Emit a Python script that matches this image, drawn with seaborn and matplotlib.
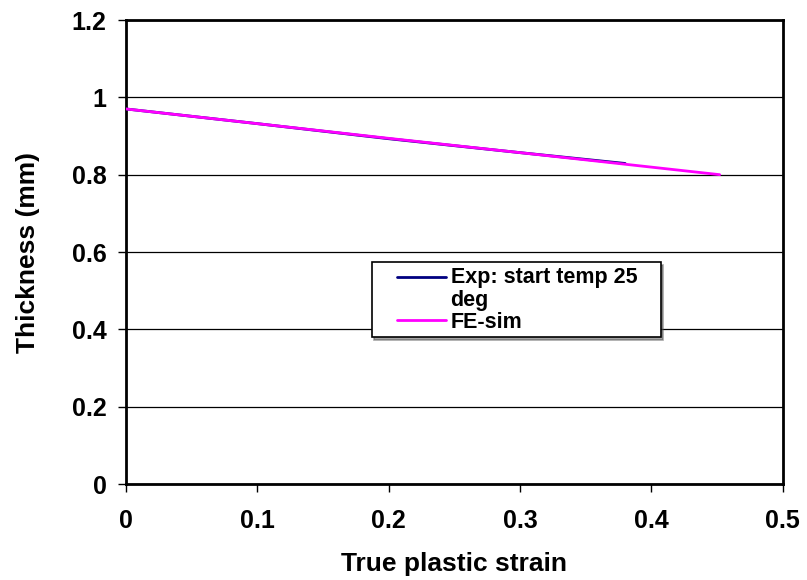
import matplotlib
matplotlib.use('Agg')
import matplotlib.pyplot as plt
from matplotlib.legend_handler import HandlerLine2D
import pandas as pd
import seaborn as sns

# data
exp_strain = [0.0, 0.1, 0.2, 0.3, 0.38]
exp_thick = [0.970, 0.932, 0.893, 0.857, 0.829]
sim_strain = [0.0, 0.1, 0.2, 0.3, 0.452]
sim_thick = [0.970, 0.932, 0.894, 0.857, 0.800]

exp_label = 'Exp: start temp 25\ndeg'
sim_label = 'FE-sim'


class ShortHandle(HandlerLine2D):
    # short line at the right end of the handle box, optionally raised
    def __init__(self, seg=35, dy=0, **kw):
        super().__init__(**kw)
        self.seg = seg
        self.dy = dy

    def create_artists(self, legend, orig_handle, xdescent, ydescent,
                       width, height, fontsize, trans):
        arts = super().create_artists(legend, orig_handle, xdescent, ydescent,
                                      width, height, fontsize, trans)
        y = (height - ydescent) / 2 + self.dy
        x1 = width - xdescent
        for a in arts:
            a.set_data([x1 - self.seg, x1], [y, y])
        return arts


sns.set_style('white')
plt.rcParams['font.family'] = ['Liberation Sans', 'DejaVu Sans']
plt.rcParams['font.weight'] = 'bold'
plt.rcParams['text.color'] = 'black'
plt.rcParams['axes.labelcolor'] = 'black'
plt.rcParams['xtick.color'] = 'black'
plt.rcParams['ytick.color'] = 'black'

fig = plt.figure(figsize=(8.07, 5.80), dpi=100)
ax = fig.add_axes([0.156, 0.1655, 0.814, 0.80])

exp_df = pd.DataFrame({'strain': exp_strain, 'thick': exp_thick})
sim_df = pd.DataFrame({'strain': sim_strain, 'thick': sim_thick})

sns.lineplot(data=exp_df, x='strain', y='thick', color='#000080', lw=2,
             label=exp_label, sort=False, ax=ax, zorder=3)
sns.lineplot(data=sim_df, x='strain', y='thick', color='#FF00FF', lw=2,
             label=sim_label, sort=False, ax=ax, zorder=4)
exp_line, sim_line = ax.get_lines()[:2]

ax.set_xlim(0, 0.5)
ax.set_ylim(0, 1.2)
ax.set_xticks([0, 0.1, 0.2, 0.3, 0.4, 0.5])
ax.set_xticklabels(['0', '0.1', '0.2', '0.3', '0.4', '0.5'])
ax.set_yticks([0, 0.2, 0.4, 0.6, 0.8, 1.0, 1.2])
ax.set_yticklabels(['0', '0.2', '0.4', '0.6', '0.8', '1', '1.2'])
ax.yaxis.grid(True, color='black', lw=0.9)
ax.xaxis.grid(False)
ax.set_axisbelow(True)

for s in ax.spines.values():
    s.set_visible(True)
    s.set_color('black')
    s.set_linewidth(2)

ax.tick_params(axis='both', which='major', direction='out', length=6,
               width=1, color='black', labelsize=18,
               bottom=True, left=True)
ax.tick_params(axis='x', pad=12)
ax.tick_params(axis='y', pad=8)
for lab in ax.get_xticklabels() + ax.get_yticklabels():
    lab.set_fontweight('bold')

ax.set_xlabel('True plastic strain', fontsize=19, fontweight='bold', labelpad=14)
ax.set_ylabel('Thickness (mm)', fontsize=19, fontweight='bold', labelpad=23)

leg = ax.legend(handles=[exp_line, sim_line], labels=[exp_label, sim_label],
                loc='lower left', bbox_to_anchor=(0.374, 0.317, 0.44, 0.161),
                mode='expand', frameon=True, fancybox=False, shadow=True,
                fontsize=15.5, handlelength=3.24, handletextpad=0.23,
                borderaxespad=0, labelspacing=0.02, borderpad=0.2,
                handler_map={exp_line: ShortHandle(seg=35, dy=9),
                             sim_line: ShortHandle(seg=35, dy=0)})
leg.get_frame().set_edgecolor('black')
leg.get_frame().set_linewidth(1.2)
for t in leg.get_texts():
    t.set_fontweight('bold')
    t.set_linespacing(1.15)

fig.savefig('out.png', dpi=100)
